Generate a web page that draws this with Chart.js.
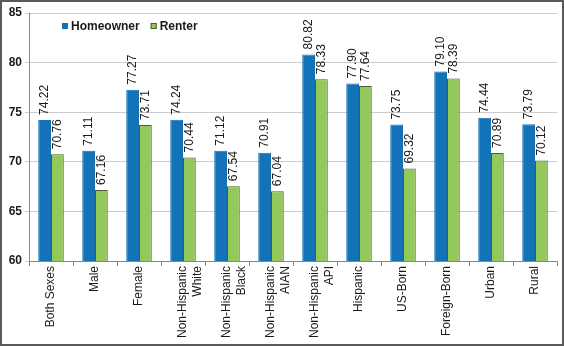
<!DOCTYPE html>
<html><head><meta charset="utf-8">
<script src="https://cdn.jsdelivr.net/npm/chart.js@4/dist/chart.umd.min.js"></script>
<style>html,body{margin:0;padding:0;background:#fff;}#wrap{width:564px;height:346px;position:relative;}</style>
</head><body><div id="wrap"><canvas id="c" width="564" height="346"></canvas></div>
<script>
const categories = [["Both Sexes"],["Male"],["Female"],["Non-Hispanic","White"],["Non-Hispanic","Black"],["Non-Hispanic","AIAN"],["Non-Hispanic","API"],["Hispanic"],["US-Born"],["Foreign-Born"],["Urban"],["Rural"]];
const homeowner = [74.22,71.11,77.27,74.24,71.12,70.91,80.82,77.90,73.75,79.10,74.44,73.79];
const renter = [70.76,67.16,73.71,70.44,67.54,67.04,78.33,77.64,69.32,78.39,70.89,70.12];
const seriesNames = ["Homeowner","Renter"];
const yTicks = {min:60, max:85, step:5};

const FONT = "'Liberation Sans', Arial, sans-serif";
const BLUE = "#1273b9", BLUE_B = "#1a6fae", GREEN = "#93c85b", GREEN_B = "#4a5e36";

const labelsPlugin = {
  id:'valLabels',
  afterDatasetsDraw(chart){
    const ctx = chart.ctx;
    ctx.save();
    ctx.font = "12px " + FONT;
    ctx.fillStyle = "#1a1a1a";
    ctx.textAlign = "left";
    ctx.textBaseline = "middle";
    chart.data.datasets.forEach((ds,i)=>{
      chart.getDatasetMeta(i).data.forEach((bar,j)=>{
        ctx.save();
        ctx.translate(bar.x, bar.y - 5);
        ctx.rotate(-Math.PI/2);
        ctx.fillText(ds.data[j].toFixed(2), 0, 0);
        ctx.restore();
      });
    });
    ctx.restore();
  }
};
const legendPlugin = {
  id:'myLegend',
  afterDraw(chart){
    const ctx = chart.ctx;
    ctx.save();
    ctx.font = "bold 12px " + FONT;
    ctx.textBaseline = "middle";
    ctx.textAlign = "left";
    const y = 26;
    let x = 62;
    const cols = [[BLUE,BLUE_B],[GREEN,GREEN_B]];
    seriesNames.forEach((n,i)=>{
      ctx.fillStyle = cols[i][0];
      ctx.fillRect(x, y-3, 6, 6);
      ctx.strokeStyle = cols[i][1]; ctx.lineWidth = 1;
      ctx.strokeRect(x+0.5, y-2.5, 5, 5);
      ctx.fillStyle = "#1a1a1a";
      ctx.fillText(n, x+9, y+1);
      x += 9 + ctx.measureText(n).width + 11;
    });
    // outer border
    ctx.strokeStyle = "#5a5a5a"; ctx.lineWidth = 2;
    ctx.strokeRect(1,1,562,344);
    ctx.restore();
  }
};

new Chart(document.getElementById('c'), {
  type:'bar',
  data:{
    labels: categories,
    datasets:[
      {label:seriesNames[0], data:homeowner, backgroundColor:BLUE, borderColor:BLUE_B, borderWidth:1, categoryPercentage:0.58, barPercentage:1.0},
      {label:seriesNames[1], data:renter, backgroundColor:GREEN, borderColor:GREEN_B, borderWidth:1, categoryPercentage:0.58, barPercentage:1.0}
    ]
  },
  options:{
    responsive:false, animation:false, devicePixelRatio:1,
    layout:{padding:{top:13,right:7,left:0,bottom:0}},
    plugins:{legend:{display:false}, tooltip:{enabled:false}},
    scales:{
      x:{
        grid:{display:true, offset:true, drawOnChartArea:false, drawTicks:true, tickLength:5, color:"#888"},
        border:{display:true, color:"#888", width:1},
        ticks:{maxRotation:90, minRotation:90, color:"#1a1a1a", font:{family:FONT, size:12}, padding:0},
        afterFit(s){ s.height = 85; }
      },
      y:{
        min:yTicks.min, max:yTicks.max,
        grid:{color:"#cccccc", drawTicks:true, tickLength:4, lineWidth:1},
        border:{display:true, color:"#888", width:1},
        ticks:{stepSize:yTicks.step, color:"#1a1a1a", font:{family:FONT, size:12, weight:'bold'}, padding:3},
        afterFit(s){ s.width = 29; }
      }
    }
  },
  plugins:[labelsPlugin, legendPlugin]
});
</script></body></html>
